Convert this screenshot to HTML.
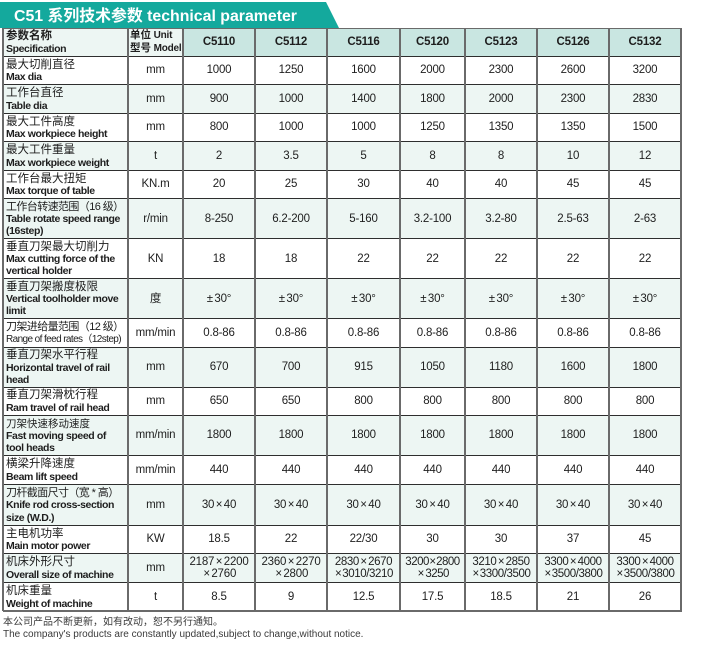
<!DOCTYPE html>
<html><head><meta charset="utf-8">
<style>
*{margin:0;padding:0;box-sizing:border-box}
html,body{width:706px;height:652px;background:#fff;overflow:hidden}
body{position:relative;font-family:"Liberation Sans","Noto Sans CJK SC",sans-serif;color:#1e1e1e}
.row{position:absolute;left:3px;width:678px}
.row>div{position:absolute;top:0;bottom:0;display:flex;flex-direction:column;align-items:center;justify-content:center;text-align:center;font-size:11.5px;line-height:12px;letter-spacing:-0.2px}
.c0{left:0;width:125px}
.c1{left:125px;width:55px}
.c2{left:180px;width:72px}
.c3{left:252px;width:72px}
.c4{left:324px;width:73px}
.c5{left:397px;width:65px}
.c6{left:462px;width:72px}
.c7{left:534px;width:72px}
.c8{left:606px;width:72px}
.row>div.c0{align-items:flex-start;text-align:left;padding-left:3px;padding-top:1.5px;line-height:12.3px}
.zh{font-size:11.5px;font-family:"Liberation Sans","Noto Sans CJK SC",sans-serif;letter-spacing:0;white-space:nowrap}
.zs{font-size:11px;letter-spacing:-0.6px}
.en{font-size:10.5px;font-weight:bold;letter-spacing:-0.4px;white-space:nowrap}
.alt{background:#edf6f3}
.hd{background:#c9e6e1}
.x{margin:0 1.5px}
.pm{margin-right:1.5px}
.vl{position:absolute;top:28px;height:583px;width:1.8px;background:#6a6a6a}
.hl{position:absolute;left:3px;width:679px;height:1.3px;background:#2e2e2e}
.foot{position:absolute;left:3px;font-size:10px;line-height:12px;color:#3a3a3a;white-space:nowrap}
</style></head><body>
<svg style="position:absolute;left:0;top:0" width="345" height="30"><polygon points="0,2 326,2 339,28 0,28" fill="#14a99d"/><text x="14" y="21" font-family="Liberation Sans, Noto Sans CJK SC, sans-serif" font-weight="bold" font-size="16" fill="#fff" textLength="283" lengthAdjust="spacingAndGlyphs">C51 系列技术参数 technical parameter</text></svg>

<!-- header -->
<div class="row" style="top:28px;height:28px">
<div class="c0 alt" style="font-weight:bold"><span class="zh" style="font-weight:bold">参数名称</span><span class="en" style="font-size:10.5px">Specification</span></div>
<div class="c1 alt" style="align-items:flex-start;padding-left:2px;font-weight:bold"><span class="en" style="font-size:10px;letter-spacing:-0.2px"><span class="zh" style="font-size:10.5px">单位</span> Unit</span><span class="en" style="font-size:10px;letter-spacing:-0.2px"><span class="zh" style="font-size:10.5px">型号</span> Model</span></div>
<div class="c2 hd" style="font-weight:bold">C5110</div><div class="c3 hd" style="font-weight:bold">C5112</div><div class="c4 hd" style="font-weight:bold">C5116</div><div class="c5 hd" style="font-weight:bold">C5120</div><div class="c6 hd" style="font-weight:bold">C5123</div><div class="c7 hd" style="font-weight:bold">C5126</div><div class="c8 hd" style="font-weight:bold">C5132</div>
</div>

<div class="row" style="top:56px;height:28.5px">
<div class="c0"><span class="zh">最大切削直径</span><span class="en">Max dia</span></div>
<div class="c1">mm</div><div class="c2">1000</div><div class="c3">1250</div><div class="c4">1600</div><div class="c5">2000</div><div class="c6">2300</div><div class="c7">2600</div><div class="c8">3200</div>
</div>

<div class="row alt" style="top:84.5px;height:28.5px">
<div class="c0"><span class="zh">工作台直径</span><span class="en">Table dia</span></div>
<div class="c1">mm</div><div class="c2">900</div><div class="c3">1000</div><div class="c4">1400</div><div class="c5">1800</div><div class="c6">2000</div><div class="c7">2300</div><div class="c8">2830</div>
</div>

<div class="row" style="top:113px;height:28.5px">
<div class="c0"><span class="zh">最大工件高度</span><span class="en">Max workpiece height</span></div>
<div class="c1">mm</div><div class="c2">800</div><div class="c3">1000</div><div class="c4">1000</div><div class="c5">1250</div><div class="c6">1350</div><div class="c7">1350</div><div class="c8">1500</div>
</div>

<div class="row alt" style="top:141.5px;height:28.5px">
<div class="c0"><span class="zh">最大工件重量</span><span class="en">Max workpiece weight</span></div>
<div class="c1">t</div><div class="c2">2</div><div class="c3">3.5</div><div class="c4">5</div><div class="c5">8</div><div class="c6">8</div><div class="c7">10</div><div class="c8">12</div>
</div>

<div class="row" style="top:170px;height:28.5px">
<div class="c0"><span class="zh">工作台最大扭矩</span><span class="en">Max torque of table</span></div>
<div class="c1">KN.m</div><div class="c2">20</div><div class="c3">25</div><div class="c4">30</div><div class="c5">40</div><div class="c6">40</div><div class="c7">45</div><div class="c8">45</div>
</div>

<div class="row alt" style="top:198.5px;height:40px">
<div class="c0"><span class="zh zs">工作台转速范围（16 级）</span><span class="en">Table rotate speed range</span><span class="en">(16step)</span></div>
<div class="c1">r/min</div><div class="c2">8-250</div><div class="c3">6.2-200</div><div class="c4">5-160</div><div class="c5">3.2-100</div><div class="c6">3.2-80</div><div class="c7">2.5-63</div><div class="c8">2-63</div>
</div>

<div class="row" style="top:238.5px;height:40px">
<div class="c0"><span class="zh">垂直刀架最大切削力</span><span class="en">Max cutting force of the</span><span class="en">vertical holder</span></div>
<div class="c1">KN</div><div class="c2">18</div><div class="c3">18</div><div class="c4">22</div><div class="c5">22</div><div class="c6">22</div><div class="c7">22</div><div class="c8">22</div>
</div>

<div class="row alt" style="top:278.5px;height:40px">
<div class="c0"><span class="zh">垂直刀架搬度极限</span><span class="en">Vertical toolholder move</span><span class="en">limit</span></div>
<div class="c1">度</div><div class="c2"><span><span class="pm">±</span>30°</span></div><div class="c3"><span><span class="pm">±</span>30°</span></div><div class="c4"><span><span class="pm">±</span>30°</span></div><div class="c5"><span><span class="pm">±</span>30°</span></div><div class="c6"><span><span class="pm">±</span>30°</span></div><div class="c7"><span><span class="pm">±</span>30°</span></div><div class="c8"><span><span class="pm">±</span>30°</span></div>
</div>

<div class="row" style="top:318.5px;height:28.5px">
<div class="c0"><span class="zh zs">刀架进给量范围（12 级）</span><span class="en" style="font-weight:normal;font-size:10px;letter-spacing:-0.6px">Range of feed rates（12step)</span></div>
<div class="c1">mm/min</div><div class="c2">0.8-86</div><div class="c3">0.8-86</div><div class="c4">0.8-86</div><div class="c5">0.8-86</div><div class="c6">0.8-86</div><div class="c7">0.8-86</div><div class="c8">0.8-86</div>
</div>

<div class="row alt" style="top:347px;height:40px">
<div class="c0"><span class="zh">垂直刀架水平行程</span><span class="en">Horizontal travel of rail</span><span class="en">head</span></div>
<div class="c1">mm</div><div class="c2">670</div><div class="c3">700</div><div class="c4">915</div><div class="c5">1050</div><div class="c6">1180</div><div class="c7">1600</div><div class="c8">1800</div>
</div>

<div class="row" style="top:387px;height:28px">
<div class="c0"><span class="zh">垂直刀架滑枕行程</span><span class="en">Ram travel of rail head</span></div>
<div class="c1">mm</div><div class="c2">650</div><div class="c3">650</div><div class="c4">800</div><div class="c5">800</div><div class="c6">800</div><div class="c7">800</div><div class="c8">800</div>
</div>

<div class="row alt" style="top:415px;height:40.5px">
<div class="c0"><span class="zh" style="font-size:10.5px">刀架快速移动速度</span><span class="en">Fast moving speed of</span><span class="en">tool heads</span></div>
<div class="c1">mm/min</div><div class="c2">1800</div><div class="c3">1800</div><div class="c4">1800</div><div class="c5">1800</div><div class="c6">1800</div><div class="c7">1800</div><div class="c8">1800</div>
</div>

<div class="row" style="top:455.5px;height:29px">
<div class="c0"><span class="zh">横梁升降速度</span><span class="en">Beam lift speed</span></div>
<div class="c1">mm/min</div><div class="c2">440</div><div class="c3">440</div><div class="c4">440</div><div class="c5">440</div><div class="c6">440</div><div class="c7">440</div><div class="c8">440</div>
</div>

<div class="row alt" style="top:484.5px;height:40.5px">
<div class="c0"><span class="zh zs">刀杆截面尺寸（宽 * 高）</span><span class="en">Knife rod cross-section</span><span class="en">size (W.D.)</span></div>
<div class="c1">mm</div><div class="c2"><span>30<span class="x">×</span>40</span></div><div class="c3"><span>30<span class="x">×</span>40</span></div><div class="c4"><span>30<span class="x">×</span>40</span></div><div class="c5"><span>30<span class="x">×</span>40</span></div><div class="c6"><span>30<span class="x">×</span>40</span></div><div class="c7"><span>30<span class="x">×</span>40</span></div><div class="c8"><span>30<span class="x">×</span>40</span></div>
</div>

<div class="row" style="top:525px;height:28.5px">
<div class="c0"><span class="zh">主电机功率</span><span class="en">Main motor power</span></div>
<div class="c1">KW</div><div class="c2">18.5</div><div class="c3">22</div><div class="c4">22/30</div><div class="c5">30</div><div class="c6">30</div><div class="c7">37</div><div class="c8">45</div>
</div>

<div class="row alt" style="top:553.5px;height:29px">
<div class="c0"><span class="zh">机床外形尺寸</span><span class="en">Overall size of machine</span></div>
<div class="c1">mm</div>
<div class="c2"><span>2187<span class="x">×</span>2200</span><span><span class="x">×</span>2760</span></div>
<div class="c3"><span>2360<span class="x">×</span>2270</span><span><span class="x">×</span>2800</span></div>
<div class="c4" style="letter-spacing:-0.4px"><span>2830<span class="x">×</span>2670</span><span><span class="x" style="margin:0 1px">×</span>3010/3210</span></div>
<div class="c5" style="letter-spacing:-0.5px"><span>3200<span class="x" style="margin:0 0.5px">×</span>2800</span><span><span class="x">×</span>3250</span></div>
<div class="c6" style="letter-spacing:-0.4px"><span>3210<span class="x">×</span>2850</span><span><span class="x" style="margin:0 1px">×</span>3300/3500</span></div>
<div class="c7" style="letter-spacing:-0.4px"><span>3300<span class="x">×</span>4000</span><span><span class="x" style="margin:0 1px">×</span>3500/3800</span></div>
<div class="c8" style="letter-spacing:-0.4px"><span>3300<span class="x">×</span>4000</span><span><span class="x" style="margin:0 1px">×</span>3500/3800</span></div>
</div>

<div class="row" style="top:582.5px;height:28.5px">
<div class="c0"><span class="zh">机床重量</span><span class="en">Weight of machine</span></div>
<div class="c1">t</div><div class="c2">8.5</div><div class="c3">9</div><div class="c4">12.5</div><div class="c5">17.5</div><div class="c6">18.5</div><div class="c7">21</div><div class="c8">26</div>
</div>

<!-- horizontal lines -->
<div class="hl" style="top:27.5px;background:#6a6a6a"></div>
<div class="hl" style="top:55.5px"></div>
<div class="hl" style="top:84px"></div>
<div class="hl" style="top:112.5px"></div>
<div class="hl" style="top:141px"></div>
<div class="hl" style="top:169.5px"></div>
<div class="hl" style="top:198px"></div>
<div class="hl" style="top:238px"></div>
<div class="hl" style="top:278px"></div>
<div class="hl" style="top:318px"></div>
<div class="hl" style="top:346.5px"></div>
<div class="hl" style="top:386.5px"></div>
<div class="hl" style="top:414.5px"></div>
<div class="hl" style="top:455px"></div>
<div class="hl" style="top:484px"></div>
<div class="hl" style="top:524.5px"></div>
<div class="hl" style="top:553px"></div>
<div class="hl" style="top:582px"></div>
<div class="hl" style="top:610px;height:1.8px;background:#6a6a6a"></div>

<!-- vertical lines -->
<div class="vl" style="left:2.2px"></div>
<div class="vl" style="left:127.2px"></div>
<div class="vl" style="left:182.2px"></div>
<div class="vl" style="left:254.2px"></div>
<div class="vl" style="left:326.4px"></div>
<div class="vl" style="left:399px"></div>
<div class="vl" style="left:464.2px"></div>
<div class="vl" style="left:536.4px"></div>
<div class="vl" style="left:608.4px"></div>
<div class="vl" style="left:680.2px"></div>

<div class="foot" style="top:617px;font-family:'Liberation Sans','Noto Sans CJK SC',sans-serif">本公司产品不断更新，如有改动，恕不另行通知。</div>
<div class="foot" style="top:628.5px">The company's products are constantly updated,subject to change,without notice.</div>
</body></html>
